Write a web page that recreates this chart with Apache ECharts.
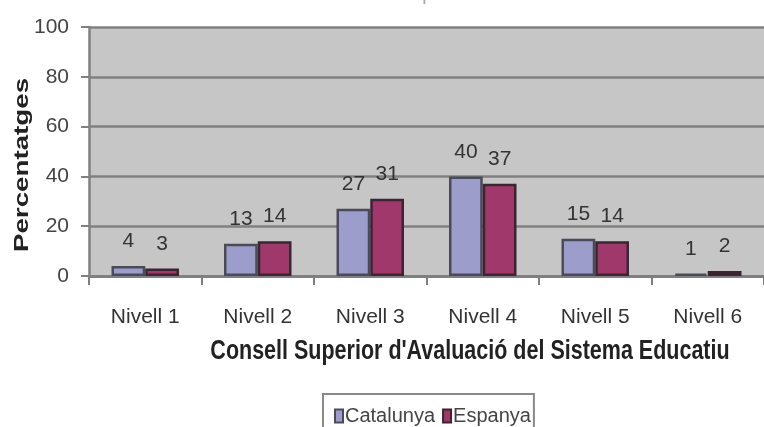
<!DOCTYPE html>
<html>
<head>
<meta charset="utf-8">
<script src="https://cdn.jsdelivr.net/npm/echarts@6/dist/echarts.min.js"></script>
<style>
html,body{margin:0;padding:0;background:#fff;}
#c{width:764px;height:427px;}
</style>
</head>
<body>
<div id="c"></div>
<script>
const categories = ['Nivell 1', 'Nivell 2', 'Nivell 3', 'Nivell 4', 'Nivell 5', 'Nivell 6'];
const catalunya = [4, 13, 27, 40, 15, 1];
const espanya = [3, 14, 31, 37, 14, 2];
const seriesNames = ['Catalunya', 'Espanya'];
const titleText = 'Matemàtiques';
const yName = 'Percentatges';
const xName = "Consell Superior d'Avaluació del Sistema Educatiu";

const FONT = "'Liberation Sans', Arial, sans-serif";
const chart = echarts.init(document.getElementById('c'), null, {renderer: 'canvas'});
chart.setOption({
  animation: false,
  backgroundColor: '#ffffff',
  textStyle: {fontFamily: FONT},
  grid: {
    left: 89, top: 27, right: -8, bottom: 151,
    show: true, backgroundColor: '#c6c6c6', borderWidth: 0
  },
  legend: {
    data: seriesNames,
    left: 323, top: 394,
    orient: 'horizontal',
    itemWidth: 8, itemHeight: 13, itemGap: 7,
    padding: [12, 3, 12, 11],
    borderColor: '#8a8a8a', borderWidth: 2,
    backgroundColor: '#ffffff',
    textStyle: {fontSize: 20, color: '#444', fontFamily: FONT, padding: [0, 0, 0, -3]},
    icon: 'rect'
  },
  xAxis: {
    type: 'category',
    data: categories,
    axisLine: {show: true, lineStyle: {color: '#808080', width: 3}},
    axisTick: {show: true, inside: false, length: 9, lineStyle: {color: '#808080', width: 2}},
    axisLabel: {fontSize: 21, color: '#333', margin: 31, fontFamily: FONT},
    splitLine: {show: false}
  },
  yAxis: {
    type: 'value',
    min: 0, max: 100, interval: 20,
    axisLine: {show: true, lineStyle: {color: '#808080', width: 2.5}},
    axisTick: {show: true, inside: false, length: 8, lineStyle: {color: '#808080', width: 2}},
    axisLabel: {fontSize: 21, color: '#444', margin: 20, fontFamily: FONT},
    splitLine: {show: true, lineStyle: {color: '#808080', width: 2.5}}
  },
  series: [
    {
      name: seriesNames[0], type: 'bar', data: catalunya,
      barGap: '0%', barCategoryGap: '40%',
      itemStyle: {color: '#9d9dcc', borderColor: '#4a4a58', borderWidth: 2.5},
      label: {show: true, position: 'top', distance: 14, fontSize: 21, color: '#333', fontFamily: FONT}
    },
    {
      name: seriesNames[1], type: 'bar', data: espanya,
      barGap: '0%', barCategoryGap: '40%',
      itemStyle: {color: '#a0386c', borderColor: '#3a2530', borderWidth: 2.5},
      label: {show: true, position: 'top', distance: 14, fontSize: 21, color: '#333', fontFamily: FONT}
    }
  ],
  graphic: [
    {type: 'text', x: 396, y: 4, style: {text: titleText, font: '20px ' + FONT, fill: '#aaa', textAlign: 'center', textVerticalAlign: 'bottom'}},
    {type: 'text', x: 22, y: 165, rotation: Math.PI / 2, scaleX: 1.32, scaleY: 1, style: {text: yName, font: 'bold 21px ' + FONT, fill: '#222', textAlign: 'center', textVerticalAlign: 'middle'}},
    {type: 'text', x: 470, y: 351, scaleX: 1, scaleY: 1.28, style: {text: xName, font: 'bold 21.5px ' + FONT, fill: '#222', textAlign: 'center', textVerticalAlign: 'middle'}}
  ]
});
</script>
</body>
</html>
